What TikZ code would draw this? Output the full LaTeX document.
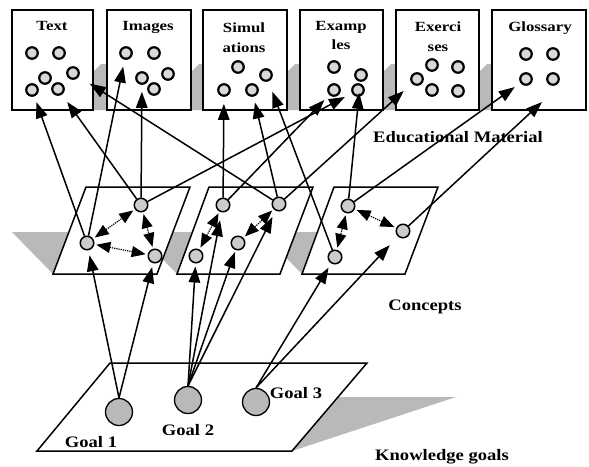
\documentclass[tikz,border=0pt]{standalone}
\usepackage{fontspec}
\setmainfont{Liberation Serif}
\usetikzlibrary{arrows.meta}
\newcommand{\tw}[1]{\scalebox{1.2}[1]{#1}}
\newcommand{\lw}[1]{\scalebox{1.16}[1]{#1}}
\tikzset{
  matbox/.style={draw, line width=1.6pt, fill=white},
  mdot/.style={circle, draw, line width=2.2pt, fill=gray!30, minimum size=11.5pt, inner sep=0pt},
  cdot/.style={circle, draw, line width=1.5pt, fill=gray!40, minimum size=13.5pt, inner sep=0pt},
  gdot/.style={circle, draw, line width=1.3pt, fill=gray!55, minimum size=27pt, inner sep=0pt},
  plane/.style={draw, line width=1.5pt, fill=white},
  shd/.style={fill=gray!55},
  conn/.style={line width=1.5pt, -{Triangle[length=16pt,width=11.5pt]}},
  dlink/.style={line width=1.2pt, densely dotted, {Triangle[length=14pt,width=11pt]}-{Triangle[length=14pt,width=11pt]}, shorten <=2pt, shorten >=2pt},
  ttl/.style={font=\fontsize{14}{19.5}\selectfont\bfseries, align=center, inner sep=0pt, anchor=north},
  lbl/.style={font=\fontsize{16}{19}\selectfont\bfseries, inner sep=0pt}
}
\begin{document}
\begin{tikzpicture}[x=1pt,y=-1pt]
\useasboundingbox (0,0) rectangle (589,466);
\fill[white] (0,0) rectangle (589,466);
% box shadows
\foreach \r/\l in {93/107, 191/203, 287/300, 383/396, 479/492}
  \fill[shd] (\r,72) -- (\r+8,64) -- (\l,64) -- (\l,110) -- (\r,110) -- cycle;
% material boxes
\draw[matbox] (12,10) rectangle (93,110);
\draw[matbox] (107,10) rectangle (191,110);
\draw[matbox] (203,10) rectangle (287,110);
\draw[matbox] (300,10) rectangle (383,110);
\draw[matbox] (396,10) rectangle (479,110);
\draw[matbox] (492,10) rectangle (586,110);
% titles
\node[ttl] (tText) at (52,21) {\tw{Text}};
\node[ttl] (tImg) at (148,21) {\tw{Images}};
\node[ttl] (tSim) at (244,23) {\tw{Simul}\\\tw{ations}};
\node[ttl] (tEx) at (341,21) {\tw{Examp}\\\tw{les}};
\node[ttl] (tExc) at (438,22) {\tw{Exerci}\\\tw{ses}};
\node[ttl] (tGl) at (540,22) {\tw{Glossary}};
% material dots
\node[mdot] (t1) at (32,53) {};
\node[mdot] (t2) at (59,53) {};
\node[mdot] (t3) at (45,78) {};
\node[mdot] (t4) at (73,73) {};
\node[mdot] (t5) at (32,90) {};
\node[mdot] (t6) at (58,89) {};
\node[mdot] (i1) at (126,53) {};
\node[mdot] (i2) at (154,53) {};
\node[mdot] (i3) at (142,78) {};
\node[mdot] (i4) at (168,74) {};
\node[mdot] (i5) at (154,89) {};
\node[mdot] (s1) at (238,67) {};
\node[mdot] (s2) at (266,75) {};
\node[mdot] (s3) at (224,90) {};
\node[mdot] (s4) at (252,90) {};
\node[mdot] (e1) at (334,67) {};
\node[mdot] (e2) at (361,75) {};
\node[mdot] (e3) at (334,90) {};
\node[mdot] (e4) at (358,90) {};
\node[mdot] (x1) at (432,65) {};
\node[mdot] (x2) at (458,67) {};
\node[mdot] (x3) at (417,79) {};
\node[mdot] (x4) at (432,90) {};
\node[mdot] (x5) at (458,91) {};
\node[mdot] (y1) at (526,54) {};
\node[mdot] (y2) at (553,54) {};
\node[mdot] (y3) at (526,79) {};
\node[mdot] (y4) at (553,79) {};
\coordinate (tipY) at (542,102);
\node[lbl] (lEdu) at (458,137) {\lw{Educational Material}};
% concept plane shadows
\fill[shd] (12,232) -- (69,232) -- (53,274) -- cycle;
\fill[shd] (136,232) -- (193,232) -- (177,274) -- cycle;
\fill[shd] (261,232) -- (318,232) -- (302,274) -- cycle;
% concept planes
\draw[plane] (86,187) -- (190,187) -- (157,274) -- (53,274) -- cycle;
\draw[plane] (209,187) -- (313,187) -- (280,274) -- (177,274) -- cycle;
\draw[plane] (334,187) -- (438,187) -- (405,274) -- (302,274) -- cycle;
\node[lbl] (lCon) at (425,307) {\lw{Concepts}};
% goal plane
\fill[shd] (338,397) -- (456,397) -- (292,451) -- cycle;
\draw[plane] (110,363) -- (367,363) -- (292,451) -- (37,451) -- cycle;
\node[lbl] (lKG) at (442,457) {\lw{Knowledge goals}};
% concept dots
\node[cdot] (c1a) at (141,205) {};
\node[cdot] (c1b) at (87,243) {};
\node[cdot] (c1c) at (155,256) {};
\node[cdot] (c2a) at (223,205) {};
\node[cdot] (c2b) at (279,204) {};
\node[cdot] (c2c) at (238,243) {};
\node[cdot] (c2d) at (196,256) {};
\node[cdot] (c3a) at (348,206) {};
\node[cdot] (c3b) at (403,231) {};
\node[cdot] (c3c) at (335,257) {};
% goals
\node[gdot] (goal1) at (119,412) {};
\node[gdot] (goal2) at (188,400) {};
\node[gdot] (goal3) at (256,402) {};
\node[lbl] (lg1) at (91,442) {\lw{Goal 1}};
\node[lbl] (lg2) at (188,430) {\lw{Goal 2}};
\node[lbl] (lg3) at (296,393) {\lw{Goal 3}};
% dotted relations
\draw[dlink] (c1b) -- (c1a);
\draw[dlink] (c1b) -- (c1c);
\draw[dlink] (c1a) -- (c1c);
\draw[dlink] (c2d) -- (c2a);
\draw[dlink] (c2c) -- (c2b);
\draw[dlink] (c3a) -- (c3c);
\draw[dlink] (c3a) -- (c3b);
% goals to concepts
\draw[conn, shorten >=5pt] (goal1.north) -- (c1b);
\draw[conn, shorten >=4pt] (goal1.north) -- (c1c);
\draw[conn, shorten >=3pt] (goal2.north) -- (c2d);
\draw[conn, shorten >=8pt] (goal2.north) -- (c2a);
\draw[conn, shorten >=2pt] (goal2.north) -- (c2c);
\draw[conn, shorten >=7pt] (goal2.north) -- (c2b);
\draw[conn, shorten >=5pt] (goal3.north) -- (c3c);
\draw[conn, shorten >=12pt] (goal3.north) -- (c3b);
% concepts to material
\draw[conn, shorten >=6pt] (c1b) -- (t5);
\draw[conn, shorten >=9pt] (c1a) -- (t6);
\draw[conn, shorten >=7pt] (c1b) -- (i1);
\draw[conn, shorten >=7pt] (c1a) -- (i3);
\draw[conn, shorten >=13pt] (c2b) -- (t4);
\draw[conn, shorten >=7pt] (c2a) -- (s3);
\draw[conn, shorten >=8pt] (c1a) -- (e4);
\draw[conn, shorten >=7pt] (c2a) -- (e3);
\draw[conn, shorten >=6pt] (c2b) -- (s4);
\draw[conn, shorten >=11pt] (c3c) -- (s2);
\draw[conn, shorten >=11pt] (c3a) -- (e2);
\draw[conn, shorten >=11pt] (c2b) -- (x3);
\draw[conn, shorten >=7pt] (c3a) -- (y3);
\draw[conn] (c3b) -- (tipY);
\end{tikzpicture}
\end{document}
